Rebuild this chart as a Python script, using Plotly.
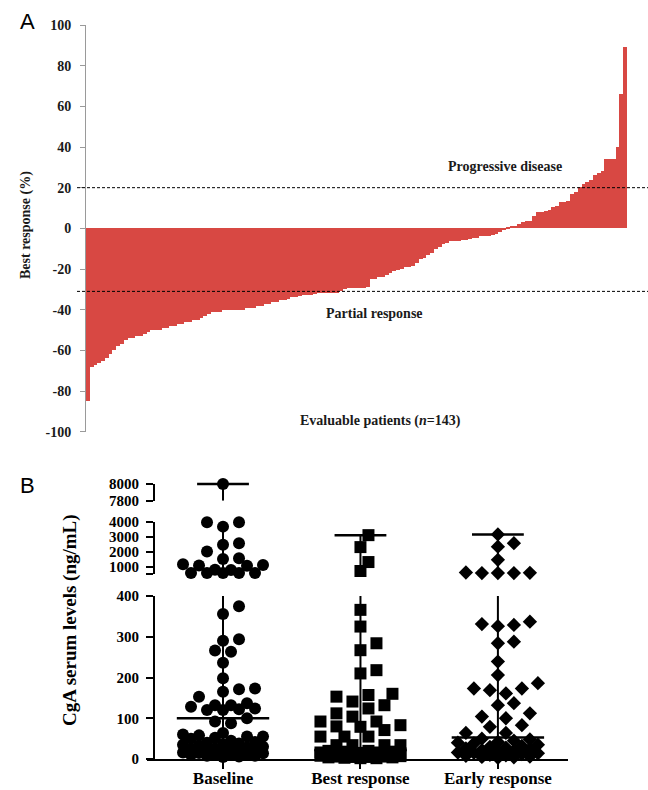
import numpy as np
import plotly.graph_objects as go

W, H = 648, 790

# ---------------- Panel A data ----------------
best_response = [
    -85, -68, -67, -66, -65, -64, -62, -60, -58, -57,
    -55, -54, -54, -53, -53, -52, -51, -50, -50, -50,
    -49, -49, -48, -48, -47, -47, -46, -46, -45, -45,
    -44, -43, -42, -41, -41, -41, -40, -40, -40, -40,
    -40, -40, -39, -39, -39, -38, -38, -37, -37, -36,
    -36, -35, -35, -34.5, -34, -34, -33.5, -33, -33, -33,
    -32.5, -32, -32, -32, -32, -32, -32, -31, -30, -29.5,
    -29.5, -29.5, -29.5, -29.5, -29, -25, -25, -24, -24, -23,
    -22, -21, -20.5, -20, -19, -19, -18.5, -17, -15, -14.5,
    -13, -12, -10, -9, -7.5, -7, -6, -6, -6, -5.5,
    -5.5, -5, -4.5, -4.5, -4, -4, -4, -3.5, -3, -2,
    -1, 0.5, 1, 1, 2, 3, 3.5, 3.5, 6, 8,
    8, 8.5, 9, 10.5, 11, 13, 13, 13.5, 17, 18,
    20.5, 22, 23, 24, 26, 27, 28, 34, 34, 34,
    40, 66, 89,
]
pd_threshold = 20
pr_threshold = -31
a_yticks = list(range(-100, 101, 20))

# ---------------- Panel B data ----------------
groups = ["Baseline", "Best response", "Early response"]
baseline_cga = [
    8000,
    3960, 3960, 3670, 2560, 2450, 2000, 1560, 1500, 1160, 1100, 1070, 1050,
    780, 760, 560, 560, 560, 560, 560,
    402, 375, 356, 294, 290, 266, 263, 236, 198, 173, 171, 165, 153, 137,
    132, 132, 128, 124, 122, 120, 120, 100, 92, 88,
    64, 60, 58, 55, 55, 52, 50, 45, 42, 40, 38, 36, 35, 33, 30, 28, 26,
    25, 22, 20, 20, 18, 18, 16, 15, 14, 12, 12, 10, 10, 8, 8, 6, 5,
]
best_cga = [
    3100, 2300, 1300, 700,
    366, 325, 284, 267, 218, 210, 160, 157, 153, 141, 132, 124, 112, 104,
    92, 92, 83, 80, 79, 71, 55, 55, 55, 34, 34, 34, 34,
    20, 20, 18, 18, 16, 16, 15, 14, 14, 12, 12, 12, 10, 10, 10, 9, 8, 8,
    7, 6, 6, 5, 5, 4, 4, 3, 2, 2,
]
early_cga = [
    3150, 2560, 2330, 1450, 600, 580, 560, 560, 560,
    337, 331, 329, 326, 288, 284, 239, 206, 186, 173, 173, 169, 161, 137,
    132, 112, 104, 100, 83, 79, 64, 64,
    50, 48, 45, 42, 40, 38, 35, 32, 30, 28, 26, 25, 22, 20, 18, 16, 15,
    14, 12, 10, 9, 8, 6, 5, 4, 3,
]
medians = [100, 22, 53]
segments = [(0, 400), (500, 4000), (7800, 8000)]
seg_tickvals = [[0, 100, 200, 300, 400], [500, 1000, 2000, 3000, 4000], [7800, 8000]]
seg_ticktext = [["0", "100", "200", "300", "400"], ["", "1000", "2000", "3000", "4000"], ["7800", "8000"]]

# ---------------- layout geometry (pixels) ----------------
def px_x(p):
    return p / W


def px_y(p):
    return 1 - p / H


seg_px = [(759, 596), (574, 521.7), (500.7, 484)]  # (bottom, top) pixel for each segment
bx0, bx1 = 147, 568
bxrange = [-0.553, 2.51]
xppu = (bx1 - bx0) / (bxrange[1] - bxrange[0])

serif = "Liberation Serif"

fig = go.Figure()

# ---------------- Panel A ----------------
fig.add_trace(go.Bar(
    x=list(range(len(best_response))), y=best_response,
    marker=dict(color="#D84843", line=dict(width=0)), width=1.0,
    xaxis="x", yaxis="y", showlegend=False,
))

# ---------------- Panel B ----------------
def seg_of(v):
    for k, (lo, hi) in enumerate(segments):
        if lo <= v <= hi:
            return k
    return 0 if v < segments[1][0] else (1 if v < segments[2][0] else 2)


def value_to_px(v):
    k = seg_of(v)
    lo, hi = segments[k]
    b, t = seg_px[k]
    return b - (v - lo) / (hi - lo) * (b - t)


def swarm(values, diam, step=8, maxoff=40):
    order = np.argsort(values, kind="stable")
    placed = []
    offs = np.zeros(len(values))
    cands = [0]
    for k in range(1, int(maxoff / step) + 1):
        cands += [k * step, -k * step]
    for i in order:
        y = value_to_px(values[i])
        chosen = None
        best_d, fallback = -1, 0
        for c in cands:
            d = min([np.hypot(c - px, y - py) for px, py in placed], default=1e9)
            if d >= diam:
                chosen = c
                break
            if d > best_d:
                best_d, fallback = d, c
        if chosen is None:
            chosen = fallback
        placed.append((chosen, y))
        offs[i] = chosen
    return offs / xppu


yaxes_names = ["y2", "y3", "y4"]
data_sets = [baseline_cga, best_cga, early_cga]
symbols = ["circle", "square", "diamond"]
sizes = [12, 12, 11]
diams = [12, 12, 12]

for g, (vals, sym, sz, dm) in enumerate(zip(data_sets, symbols, sizes, diams)):
    vals = np.array(vals, dtype=float)
    offs = swarm(vals, dm)
    vmin, vmax = vals.min(), vals.max()
    for k, (lo, hi) in enumerate(segments):
        ya = yaxes_names[k]
        a, b = max(lo, vmin), min(hi, vmax)
        if a < b:
            fig.add_trace(go.Scatter(
                x=[g, g], y=[a, b], mode="lines",
                line=dict(color="black", width=2),
                xaxis="x2", yaxis=ya, showlegend=False, hoverinfo="skip",
            ))
        mask = np.array([seg_of(v) == k for v in vals])
        if mask.any():
            fig.add_trace(go.Scatter(
                x=g + offs[mask], y=vals[mask], mode="markers",
                marker=dict(symbol=sym, size=sz, color="black", line=dict(width=0)),
                cliponaxis=False, xaxis="x2", yaxis=ya, showlegend=False,
            ))
        if lo <= vmax <= hi:
            fig.add_trace(go.Scatter(
                x=[g], y=[vmax], mode="markers",
                marker=dict(symbol="line-ew", size=37, line=dict(color="black", width=2.5)),
                cliponaxis=False, xaxis="x2", yaxis=ya, showlegend=False,
            ))
        if lo <= medians[g] <= hi:
            fig.add_trace(go.Scatter(
                x=[g], y=[medians[g]], mode="markers",
                marker=dict(symbol="line-ew", size=66, line=dict(color="black", width=2.5)),
                cliponaxis=False, xaxis="x2", yaxis=ya, showlegend=False,
            ))

# ---------------- axes ----------------
layout = dict(
    width=W, height=H,
    margin=dict(l=0, r=0, t=0, b=0, pad=0, autoexpand=False),
    paper_bgcolor="white", plot_bgcolor="rgba(0,0,0,0)",
    bargap=0, showlegend=False,
    xaxis=dict(domain=[px_x(86), px_x(627)], range=[-0.5, len(best_response) - 0.5],
               visible=False, anchor="y", automargin=False),
    yaxis=dict(domain=[px_y(431.7), px_y(25)], range=[-100, 100], anchor="x",
               tickvals=a_yticks, ticktext=[str(v) for v in a_yticks],
               ticks="outside", ticklen=5, tickcolor="#9a9a9a", tickwidth=1,
               showline=True, linecolor="#9a9a9a", linewidth=1, automargin=False,
               showgrid=False, zeroline=False, ticklabelstandoff=6,
               tickfont=dict(family=serif, size=14, color="#1a1a1a", weight="bold")),
    xaxis2=dict(domain=[px_x(bx0), px_x(bx1)], range=bxrange, anchor="y2",
                tickvals=[0, 1, 2], ticktext=groups, automargin=False,
                ticks="outside", ticklen=8, tickwidth=2, tickcolor="black",
                showline=True, linecolor="black", linewidth=2,
                showgrid=False, zeroline=False, layer="below traces",
                ticklabelstandoff=-5,
                tickfont=dict(family=serif, size=17, color="black", weight="bold")),
)
for k, name in enumerate(["yaxis2", "yaxis3", "yaxis4"]):
    b, t = seg_px[k]
    layout[name] = dict(
        domain=[px_y(b), px_y(t)], range=list(segments[k]),
        anchor="free", position=px_x(154), automargin=False,
        tickvals=seg_tickvals[k], ticktext=seg_ticktext[k],
        ticks="outside", ticklen=7, tickwidth=2, tickcolor="black",
        showline=True, linecolor="black", linewidth=2,
        showgrid=False, zeroline=False, ticklabelstandoff=4,
        tickfont=dict(family=serif, size=15, color="black", weight="bold"),
    )
fig.update_layout(**layout)

# threshold lines (panel A)
for yv in (pd_threshold, pr_threshold):
    fig.add_shape(type="line", xref="paper", yref="y", x0=px_x(77), x1=1.0, y0=yv, y1=yv,
                  line=dict(color="black", width=1, dash="3px,2px"), layer="above")

ann = [
    dict(text="A", x=px_x(27), y=px_y(21), font=dict(family="Liberation Sans", size=22, color="black")),
    dict(text="B", x=px_x(27), y=px_y(486), font=dict(family="Liberation Sans", size=22, color="black")),
    dict(text="Best response (%)", x=px_x(26), y=px_y(225), textangle=-90,
         font=dict(family=serif, size=14, color="#1a1a1a", weight="bold")),
    dict(text="Progressive disease", x=px_x(505), y=px_y(166.7),
         font=dict(family=serif, size=14, color="#1a1a1a", weight="bold")),
    dict(text="Partial response", x=px_x(374), y=px_y(313),
         font=dict(family=serif, size=14, color="#1a1a1a", weight="bold")),
    dict(text="Evaluable patients (<i>n</i>=143)", x=px_x(381), y=px_y(421),
         font=dict(family=serif, size=14, color="#1a1a1a", weight="bold")),
    dict(text="CgA serum levels (ng/mL)", x=px_x(70), y=px_y(620), textangle=-90,
         font=dict(family=serif, size=19, color="black", weight="bold")),
]
for a in ann:
    fig.add_annotation(xref="paper", yref="paper", xanchor="center", yanchor="middle",
                       showarrow=False, **a)

fig.write_html("out.html", config={"displayModeBar": False},
               post_script="document.body.style.margin='0px';")
